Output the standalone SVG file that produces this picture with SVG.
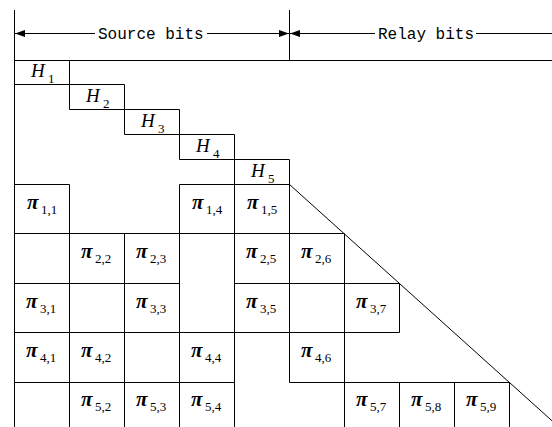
<svg xmlns="http://www.w3.org/2000/svg" width="552" height="427" viewBox="0 0 552 427">
<style>
.ln{stroke:#000;stroke-width:1;fill:none}
.hd{font-family:"Liberation Mono",monospace;font-size:16px;fill:#000}
.h{font-family:"Liberation Serif","Times New Roman",serif;font-style:italic;font-size:19px;fill:#000}
.p{font-family:"Liberation Serif","Times New Roman",serif;font-style:italic;font-weight:bold;font-size:21px;fill:#000}
.s{font-family:"Liberation Serif","Times New Roman",serif;font-style:normal;font-weight:normal;font-size:13px}
</style>
<defs>
<marker id="ah" viewBox="0 0 10 7" refX="10" refY="3.5" markerWidth="10" markerHeight="7" orient="auto-start-reverse" markerUnits="userSpaceOnUse">
<path d="M0,0 L10,3.5 L0,7 z" fill="#000"/>
</marker>
</defs>
<rect width="552" height="427" fill="#fff"/>
<g id="grid" class="ln">
<path d="M14.5,10 V427 M289.5,10 V60.5"/>
<path d="M14.5,60.5 H552 M14.5,84.5 H124.5 M69.5,109.5 H179.5 M124.5,134.5 H234.5 M179.5,159.5 H289.5"/>
<path d="M14.5,184.5 H69.5 M179.5,184.5 H289.5 M14.5,233.5 H344.5 M14.5,283.5 H179.5 M234.5,283.5 H399.5 M14.5,332.5 H399.5 M14.5,382.5 H234.5 M289.5,382.5 H509.5"/>
<path d="M69.5,60.5 V109.5 M69.5,184.5 V427 M124.5,84.5 V134.5 M124.5,233.5 V427 M179.5,109.5 V159.5 M179.5,184.5 V427 M234.5,134.5 V427 M289.5,159.5 V382.5 M344.5,233.5 V427 M399.5,283.5 V332.5 M399.5,382.5 V427 M454.5,382.5 V427 M509.5,382.5 V427"/>
</g>
<g id="connectors" class="ln">
<path d="M15,33.5 H95" marker-start="url(#ah)"/>
<path d="M207,33.5 H289" marker-end="url(#ah)"/>
<path d="M290,33.5 H375" marker-start="url(#ah)"/>
<path d="M476,33.5 H552"/>
<path d="M289.5,184.5 L560,428"/>
</g>
<g id="headers">
<text class="hd" x="98" y="39">Source bits</text>
<text class="hd" x="378" y="39">Relay bits</text>
</g>
<g id="H1"><text class="h" x="31" y="77">H<tspan class="s" x="48" y="83">1</tspan></text></g>
<g id="H2"><text class="h" x="86" y="101.5">H<tspan class="s" x="103" y="107.5">2</tspan></text></g>
<g id="H3"><text class="h" x="141" y="126.5">H<tspan class="s" x="158" y="132.5">3</tspan></text></g>
<g id="H4"><text class="h" x="196" y="151.5">H<tspan class="s" x="213" y="157.5">4</tspan></text></g>
<g id="H5"><text class="h" x="251" y="176.5">H<tspan class="s" x="268" y="182.5">5</tspan></text></g>
<g id="p11"><text class="p" x="27" y="209">π<tspan class="s" x="41" y="214">1,1</tspan></text></g>
<g id="p14"><text class="p" x="192" y="209">π<tspan class="s" x="206" y="214">1,4</tspan></text></g>
<g id="p15"><text class="p" x="247" y="209">π<tspan class="s" x="261" y="214">1,5</tspan></text></g>
<g id="p22"><text class="p" x="81" y="258">π<tspan class="s" x="95" y="263">2,2</tspan></text></g>
<g id="p23"><text class="p" x="136" y="258">π<tspan class="s" x="150" y="263">2,3</tspan></text></g>
<g id="p25"><text class="p" x="246" y="258">π<tspan class="s" x="260" y="263">2,5</tspan></text></g>
<g id="p26"><text class="p" x="301" y="258">π<tspan class="s" x="315" y="263">2,6</tspan></text></g>
<g id="p31"><text class="p" x="26" y="308">π<tspan class="s" x="40" y="313">3,1</tspan></text></g>
<g id="p33"><text class="p" x="136" y="308">π<tspan class="s" x="150" y="313">3,3</tspan></text></g>
<g id="p35"><text class="p" x="246" y="308">π<tspan class="s" x="260" y="313">3,5</tspan></text></g>
<g id="p37"><text class="p" x="356" y="308">π<tspan class="s" x="370" y="313">3,7</tspan></text></g>
<g id="p41"><text class="p" x="26" y="357">π<tspan class="s" x="40" y="362">4,1</tspan></text></g>
<g id="p42"><text class="p" x="81" y="357">π<tspan class="s" x="95" y="362">4,2</tspan></text></g>
<g id="p44"><text class="p" x="191" y="357">π<tspan class="s" x="205" y="362">4,4</tspan></text></g>
<g id="p46"><text class="p" x="301" y="357">π<tspan class="s" x="315" y="362">4,6</tspan></text></g>
<g id="p52"><text class="p" x="81" y="406">π<tspan class="s" x="95" y="411">5,2</tspan></text></g>
<g id="p53"><text class="p" x="136" y="406">π<tspan class="s" x="150" y="411">5,3</tspan></text></g>
<g id="p54"><text class="p" x="191" y="406">π<tspan class="s" x="205" y="411">5,4</tspan></text></g>
<g id="p57"><text class="p" x="356" y="406">π<tspan class="s" x="370" y="411">5,7</tspan></text></g>
<g id="p58"><text class="p" x="411" y="406">π<tspan class="s" x="425" y="411">5,8</tspan></text></g>
<g id="p59"><text class="p" x="466" y="406">π<tspan class="s" x="480" y="411">5,9</tspan></text></g>
</svg>
